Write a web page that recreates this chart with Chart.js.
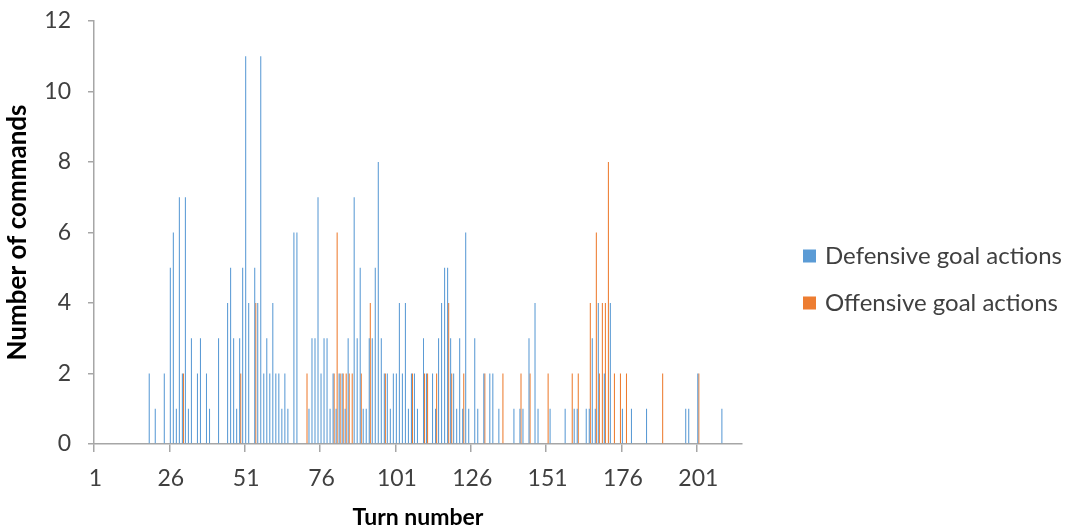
<!DOCTYPE html>
<html>
<head>
<meta charset="utf-8">
<script src="https://cdn.jsdelivr.net/npm/chart.js@4"></script>
<style>
  body { margin: 0; background: #fff; }
  #wrap { width: 1068px; height: 529px; }
</style>
</head>
<body>
<div id="wrap"><canvas id="myChart" width="1068" height="529"></canvas></div>
<script>
// turn numbers 1..215
const turns = [];
for (let t = 1; t <= 215; t++) turns.push(String(t));

// commands per turn (turn: count)
const defensiveByTurn = {
  19: 2, 21: 1, 24: 2, 26: 5, 27: 6, 28: 1, 29: 7, 30: 2, 31: 7, 32: 1, 33: 3, 35: 2, 36: 3, 38: 2, 39: 1,
  42: 3, 45: 4, 46: 5, 47: 3, 48: 1, 49: 3, 50: 5, 51: 11, 52: 4, 54: 5, 55: 4, 56: 11, 57: 2, 58: 3,
  59: 2, 60: 4, 61: 2, 62: 2, 63: 1, 64: 2, 65: 1, 67: 6, 68: 6, 72: 1, 73: 3, 74: 3, 75: 7, 76: 2,
  77: 3, 78: 3, 79: 1, 80: 2, 81: 1, 82: 2, 83: 2, 84: 1, 85: 3, 87: 7, 88: 3, 89: 5, 90: 1, 91: 1,
  92: 3, 93: 3, 94: 5, 95: 8, 96: 3, 97: 2, 98: 2, 99: 1, 100: 2, 101: 2, 102: 4, 103: 2, 104: 4,
  105: 1, 106: 2, 107: 2, 108: 1, 110: 3, 111: 2, 113: 2, 114: 1, 115: 3, 116: 4, 117: 5, 118: 5,
  119: 3, 120: 2, 121: 1, 122: 3, 123: 1, 124: 6, 125: 1, 127: 3, 128: 1, 130: 2, 132: 2, 133: 2,
  135: 1, 140: 1, 142: 1, 143: 1, 145: 3, 147: 4, 148: 1, 152: 1, 157: 1, 160: 1, 161: 1, 164: 1,
  165: 1, 166: 3, 167: 1, 168: 4, 170: 2, 172: 4, 176: 1, 179: 1, 184: 1, 197: 1, 198: 1, 201: 2,
  209: 1
};
const offensiveByTurn = {
  30: 2, 49: 2, 54: 4, 71: 2, 80: 2, 81: 6, 82: 2, 83: 2, 84: 2, 85: 2, 86: 2, 89: 2, 92: 4, 97: 2,
  106: 2, 110: 2, 111: 2, 114: 2, 118: 4, 119: 2, 123: 2, 130: 2, 136: 2, 142: 2, 145: 2, 151: 2,
  159: 2, 161: 2, 165: 4, 167: 6, 168: 2, 169: 4, 170: 4, 171: 8, 173: 2, 175: 2, 177: 2, 189: 2,
  201: 2
};
const defensive = turns.map(t => defensiveByTurn[t] || 0);
const offensive = turns.map(t => offensiveByTurn[t] || 0);

const yTicks = [0, 2, 4, 6, 8, 10, 12];

const axisGray = '#a6a6a6';
const textGray = '#404040';
const font = 'Lato, "Open Sans", sans-serif';

// legend drawn at the right, like the Excel one
const sideLegend = {
  id: 'sideLegend',
  afterDraw(chart) {
    const c = chart.ctx;
    c.save();
    c.font = '24px ' + font;
    c.textBaseline = 'middle';
    chart.data.datasets.forEach((ds, i) => {
      const y = 256 + i * 47;
      c.fillStyle = ds.backgroundColor;
      c.fillRect(803, y - 6.5, 13, 13);
      c.fillStyle = textGray;
      c.fillText(ds.label, 825, y);
    });
    c.restore();
  }
};

const ctx = document.getElementById('myChart').getContext('2d');
new Chart(ctx, {
  type: 'bar',
  data: {
    labels: turns,
    datasets: [
      {
        label: 'Defensive goal actions',
        data: defensive,
        backgroundColor: '#5b9bd5',
        borderWidth: 0
      },
      {
        label: 'Offensive goal actions',
        data: offensive,
        backgroundColor: '#ed7d31',
        borderWidth: 0
      }
    ]
  },
  options: {
    responsive: false,
    animation: false,
    categoryPercentage: 0.7,
    barPercentage: 1.0,
    layout: { padding: { top: 21, left: 0, right: 326, bottom: 0 } },
    plugins: {
      tooltip: { enabled: false },
      legend: { display: false }
    },
    scales: {
      x: {
        offset: true,
        grid: {
          offset: true,
          drawOnChartArea: false,
          tickLength: 8,
          color: c => (c.index !== undefined && c.index % 25 === 0 ? axisGray : 'rgba(0,0,0,0)'),
          lineWidth: 1.5
        },
        border: { color: axisGray, width: 1.5 },
        ticks: {
          autoSkip: false,
          maxRotation: 0,
          padding: 13,
          color: textGray,
          font: { family: font, size: 23 },
          callback: (v, i) => (i % 25 === 0 ? turns[i] : '')
        },
        title: {
          display: true,
          text: 'Turn number',
          color: '#000',
          font: { family: font, size: 23, weight: 'bold', lineHeight: 1 },
          padding: { top: 0, bottom: 0 }
        },
        afterFit: s => { s.height = 85; }
      },
      y: {
        min: 0,
        max: 12,
        afterBuildTicks: s => { s.ticks = yTicks.map(v => ({ value: v })); },
        grid: { drawOnChartArea: false, tickLength: 6, color: axisGray, lineWidth: 1.5 },
        border: { color: axisGray, width: 1.5 },
        ticks: {
          padding: 17,
          color: textGray,
          font: { family: font, size: 23 }
        },
        title: {
          display: true,
          text: 'Number of commands',
          color: '#000',
          font: { family: font, size: 26, weight: 'bold', lineHeight: 1 },
          padding: { top: 5, bottom: 0 }
        },
        afterFit: s => {
          s.width = 94;
          s.paddingTop = 0;
          s.paddingBottom = 0;
        }
      }
    }
  },
  plugins: [sideLegend]
});
</script>
</body>
</html>
